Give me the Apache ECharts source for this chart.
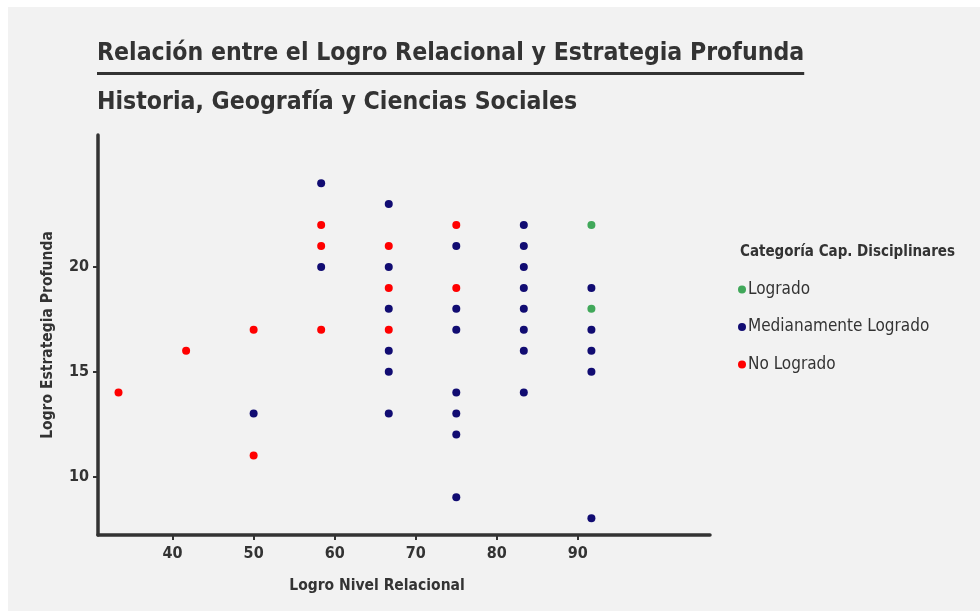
<!DOCTYPE html>
<html>
<head>
<meta charset="utf-8">
<script src="https://cdn.jsdelivr.net/npm/echarts@6/dist/echarts.min.js"></script>
<style>
  html, body { margin: 0; padding: 0; background: #ffffff; }
  #chart { width: 980px; height: 611px; }
</style>
</head>
<body>
<div id="chart"></div>
<script>
// categories of the legend
const categories = ['Logrado', 'Medianamente Logrado', 'No Logrado']
const catColors = ['#41a85a', '#110c72', '#ff0000']

// [Logro Nivel Relacional, Logro Estrategia Profunda]
const logrado = [
    [91.67, 22], [91.67, 18]
]
const medianamente = [
    [50, 13],
    [58.33, 24], [58.33, 20],
    [66.67, 23], [66.67, 20], [66.67, 18], [66.67, 16], [66.67, 15], [66.67, 13],
    [75, 21], [75, 18], [75, 17], [75, 14], [75, 13], [75, 12], [75, 9],
    [83.33, 22], [83.33, 21], [83.33, 20], [83.33, 19], [83.33, 18], [83.33, 17], [83.33, 16], [83.33, 14],
    [91.67, 19], [91.67, 17], [91.67, 16], [91.67, 15], [91.67, 8]
]
const noLogrado = [
    [33.33, 14],
    [41.67, 16],
    [50, 17], [50, 11],
    [58.33, 22], [58.33, 21], [58.33, 17],
    [66.67, 21], [66.67, 19], [66.67, 17],
    [75, 22], [75, 19]
]
const seriesData = [logrado, medianamente, noLogrado]

// tick labels
const xTicks = [40, 50, 60, 70, 80, 90]
const yTicks = [10, 15, 20]

const titleText = 'Relación entre el Logro Relacional y Estrategia Profunda'
const subtitleText = 'Historia, Geografía y Ciencias Sociales'
const legendTitle = 'Categoría Cap. Disciplinares'
const xName = 'Logro Nivel Relacional'
const yName = 'Logro Estrategia Profunda'

const FONT = '"DejaVu Sans Condensed", "Liberation Sans Narrow", sans-serif'
const TEXT = '#333333'

// width of the main title, used for its underline
function textWidth(str, font) {
    const ctx = document.createElement('canvas').getContext('2d')
    ctx.font = font
    return ctx.measureText(str).width
}
const titleSize = 24.6
const titleW = textWidth(titleText, 'bold ' + titleSize + 'px ' + FONT)

const chart = echarts.init(document.getElementById('chart'))

const option = {
    backgroundColor: 'transparent',
    animation: false,
    graphic: [
        {
            type: 'rect', z: -10, silent: true,
            shape: { x: 8, y: 7, width: 972, height: 604 },
            style: { fill: '#f2f2f2' }
        },
        {
            type: 'rect', silent: true,
            shape: { x: 97, y: 72, width: titleW, height: 3 },
            style: { fill: TEXT }
        }
    ],
    title: [
        {
            text: titleText, left: 97, top: 41, padding: 0,
            textStyle: { fontFamily: FONT, fontSize: titleSize, fontWeight: 'bold', color: TEXT }
        },
        {
            text: subtitleText, left: 97, top: 90, padding: 0,
            textStyle: { fontFamily: FONT, fontSize: titleSize, fontWeight: 'bold', color: TEXT }
        },
        {
            text: legendTitle, left: 740, top: 245, padding: 0,
            textStyle: { fontFamily: FONT, fontSize: 15, fontWeight: 'bold', color: TEXT }
        }
    ],
    legend: {
        orient: 'vertical',
        left: 733, top: 276,
        icon: 'circle',
        itemWidth: 8, itemHeight: 8,
        itemGap: 20.5,
        data: categories,
        textStyle: { fontFamily: FONT, fontSize: 17, color: TEXT, padding: [0, 0, 0, -3] }
    },
    grid: {
        left: 98, right: 270, top: 135, bottom: 76
    },
    xAxis: {
        type: 'value',
        min: 30.8, max: 106.3,
        name: xName,
        nameLocation: 'middle',
        nameGap: 43,
        nameTextStyle: { fontFamily: FONT, fontSize: 15.5, fontWeight: 'bold', color: TEXT, padding: [0, 54, 0, 0] },
        axisLine: { lineStyle: { color: TEXT, width: 3.5 } },
        axisTick: { length: 5, customValues: xTicks, lineStyle: { color: TEXT, width: 2 } },
        axisLabel: {
            fontFamily: FONT, fontSize: 16, fontWeight: 'bold', color: TEXT, margin: 11,
            customValues: xTicks
        },
        splitLine: { show: false }
    },
    yAxis: {
        type: 'value',
        min: 7.2, max: 26.3,
        name: yName,
        nameLocation: 'middle',
        nameGap: 42,
        nameRotate: 90,
        nameTextStyle: { fontFamily: FONT, fontSize: 15.5, fontWeight: 'bold', color: TEXT },
        axisLine: { show: true, lineStyle: { color: TEXT, width: 3.5 } },
        axisTick: { show: true, length: 5, customValues: yTicks, lineStyle: { color: TEXT, width: 2 } },
        axisLabel: {
            fontFamily: FONT, fontSize: 16, fontWeight: 'bold', color: TEXT, margin: 9,
            customValues: yTicks
        },
        splitLine: { show: false }
    },
    series: categories.map((name, i) => ({
        name: name,
        type: 'scatter',
        symbolSize: 8,
        itemStyle: { color: catColors[i], opacity: 1 },
        data: seriesData[i]
    }))
}

chart.setOption(option)
</script>
</body>
</html>
